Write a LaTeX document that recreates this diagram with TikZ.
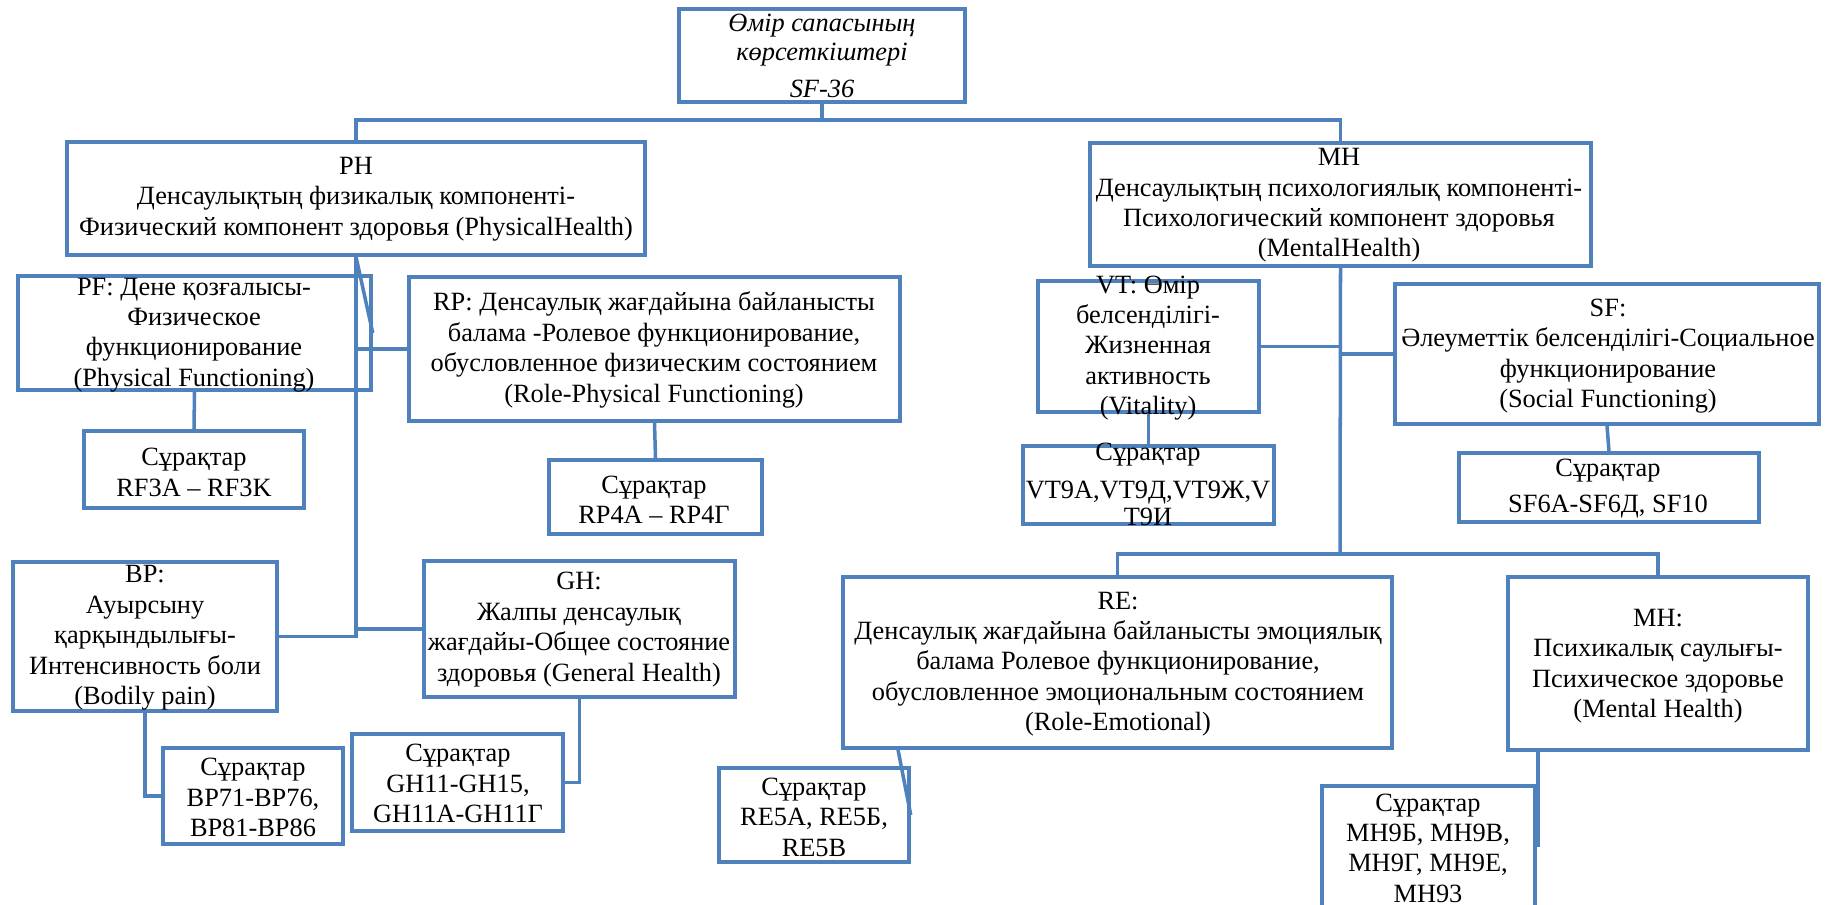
\documentclass[tikz,border=0pt]{standalone}
\usepackage{fontspec}
\setmainfont{Liberation Serif}
\definecolor{sfblue}{HTML}{4F81BD}
\begin{document}
\begin{tikzpicture}[x=0.2mm, y=-0.2mm,
		box/.style={draw=sfblue, line width=2pt, inner sep=0pt},
		txt/.style={align=center, inner sep=0pt, font=\fontsize{15}{17.3}\selectfont},
		link/.style={draw=sfblue, line width=2pt}]
	\useasboundingbox (0,0) rectangle (1834,905);
	% boxes
	\node[box, minimum width=286*0.2mm, minimum height=93*0.2mm] (top) at (822,55.5) {};
	\node[box, minimum width=578*0.2mm, minimum height=113*0.2mm] (ph) at (356,198.5) {};
	\node[box, minimum width=501*0.2mm, minimum height=123*0.2mm] (mh) at (1340.5,204.5) {};
	\node[box, minimum width=353*0.2mm, minimum height=114*0.2mm] (pf) at (194.5,333) {};
	\node[box, minimum width=491*0.2mm, minimum height=144*0.2mm] (rp) at (654.5,349) {};
	\node[box, minimum width=220*0.2mm, minimum height=77*0.2mm] (pfq) at (194,469.5) {};
	\node[box, minimum width=213*0.2mm, minimum height=74*0.2mm] (rpq) at (655.5,497) {};
	\node[box, minimum width=264*0.2mm, minimum height=149*0.2mm] (bp) at (145,636.5) {};
	\node[box, minimum width=311*0.2mm, minimum height=136*0.2mm] (gh) at (579.5,629) {};
	\node[box, minimum width=180*0.2mm, minimum height=96*0.2mm] (bpq) at (253,796) {};
	\node[box, minimum width=211*0.2mm, minimum height=97*0.2mm] (ghq) at (457.5,782.5) {};
	\node[box, minimum width=190*0.2mm, minimum height=94*0.2mm] (req) at (814,815) {};
	\node[box, minimum width=221*0.2mm, minimum height=131*0.2mm] (vt) at (1148.5,346.5) {};
	\node[box, minimum width=424*0.2mm, minimum height=140*0.2mm] (sf) at (1607,354) {};
	\node[box, minimum width=251*0.2mm, minimum height=78*0.2mm] (vtq) at (1148.5,485) {};
	\node[box, minimum width=300*0.2mm, minimum height=69*0.2mm] (sfq) at (1609,487.5) {};
	\node[box, minimum width=549*0.2mm, minimum height=171*0.2mm] (re) at (1117.5,662.5) {};
	\node[box, minimum width=300*0.2mm, minimum height=173*0.2mm] (mh2) at (1658,663.5) {};
	\node[box, minimum width=213*0.2mm, minimum height=126*0.2mm] (mhq) at (1428.5,849) {};
	% texts
	\node[txt, font=\fontsize{15}{16.5}\selectfont\itshape] (top-t) at (822,56) {Өмір сапасының\\көрсеткіштері\\[5pt]SF-36};
	\node[txt] (ph-t) at (356,199) {PH\\Денсаулықтың физикалық компоненті-\\Физический компонент здоровья (PhysicalHealth)};
	\node[txt] (mh-t) at (1339,205.5) {MH\\Денсаулықтың психологиялық компоненті-\\Психологический компонент здоровья\\(MentalHealth)};
	\node[txt] (pf-t) at (194,335) {PF: Дене қозғалысы-\\Физическое\\функционирование\\(Physical Functioning)};
	\node[txt] (rp-t) at (654,350) {RP: Денсаулық жағдайына байланысты\\балама -Ролевое функционирование,\\обусловленное физическим состоянием\\(Role-Physical Functioning)};
	\node[txt] (pfq-t) at (194,472.5) {Сұрақтар\\RF3A – RF3K};
	\node[txt] (rpq-t) at (654,500) {Сұрақтар\\RP4A – RP4Г};
	\node[txt] (bp-t) at (145,638) {BP:\\Ауырсыну\\қарқындылығы-\\Интенсивность боли\\(Bodily pain)};
	\node[txt] (gh-t) at (579,629.5) {GH:\\Жалпы денсаулық\\жағдайы-Общее состояние\\здоровья (General Health)};
	\node[txt] (bpq-t) at (253,797.5) {Сұрақтар\\BP71-BP76,\\BP81-BP86};
	\node[txt] (ghq-t) at (458,783.5) {Сұрақтар\\GH11-GH15,\\GH11A-GH11Г};
	\node[txt] (req-t) at (814,817) {Сұрақтар\\RE5A, RE5Б,\\RE5B};
	\node[txt] (vt-t) at (1148,348) {VT: Өмір\\белсенділігі-\\Жизненная\\активность\\(Vitality)};
	\node[txt] (sf-t) at (1608,356) {SF:\\Әлеуметтік белсенділігі-Социальное\\функционирование\\(Social Functioning)};
	\node[txt] (vtq-t) at (1148,484.5) {Сұрақтар\\[4pt]VT9A,VT9Д,VT9Ж,V\\[-2pt]Т9И};
	\node[txt] (sfq-t) at (1608,488.5) {Сұрақтар\\[3pt]SF6A-SF6Д, SF10};
	\node[txt] (re-t) at (1118,664) {RE:\\Денсаулық жағдайына байланысты эмоциялық\\балама Ролевое функционирование,\\обусловленное эмоциональным состоянием\\(Role-Emotional)};
	\node[txt] (mh2-t) at (1658,666) {MH:\\Психикалық саулығы-\\Психическое здоровье\\(Mental Health)};
	\node[txt] (mhq-t) at (1428,848) {Сұрақтар\\MH9Б, MH9B,\\MH9Г, MH9E,\\MH93};
	% connectors
	\coordinate (j0) at (822,120);
	\coordinate (j1) at (1340,554);
	\coordinate (mhq-end) at (1538,847);
	\draw[link] (top.south) -- (j0);
	\draw[link] (ph.north) |- (j0) -| (mh.north);
	\draw[link] (ph.south) -- (ph.south |- bp.east) -- (bp.east);
	\draw[link] (ph.south) -- (pf.east);
	\draw[link] (ph.south |- rp.west) -- (rp.west);
	\draw[link] (ph.south |- gh.west) -- (gh.west);
	\draw[link] (pf.south) -- (pfq.north);
	\draw[link] (rp.south) -- (rpq.north);
	\draw[link] (bp.south) |- (bpq.west);
	\draw[link] (gh.south) |- (ghq.east);
	\draw[link] (re.south west -| 898,0) -- (req.east);
	\draw[link] (mh.south) -- (j1);
	\draw[link] (vt.east) -- (vt.east -| mh.south);
	\draw[link] (sf.west) -- (sf.west -| mh.south);
	\draw[link] (re.north) |- (j1) -| (mh2.north);
	\draw[link] (vt.south) -- (vtq.north);
	\draw[link] (sf.south) -- (sfq.north);
	\draw[link] (mhq-end |- mh2.south) -- (mhq-end);
\end{tikzpicture}
\end{document}
